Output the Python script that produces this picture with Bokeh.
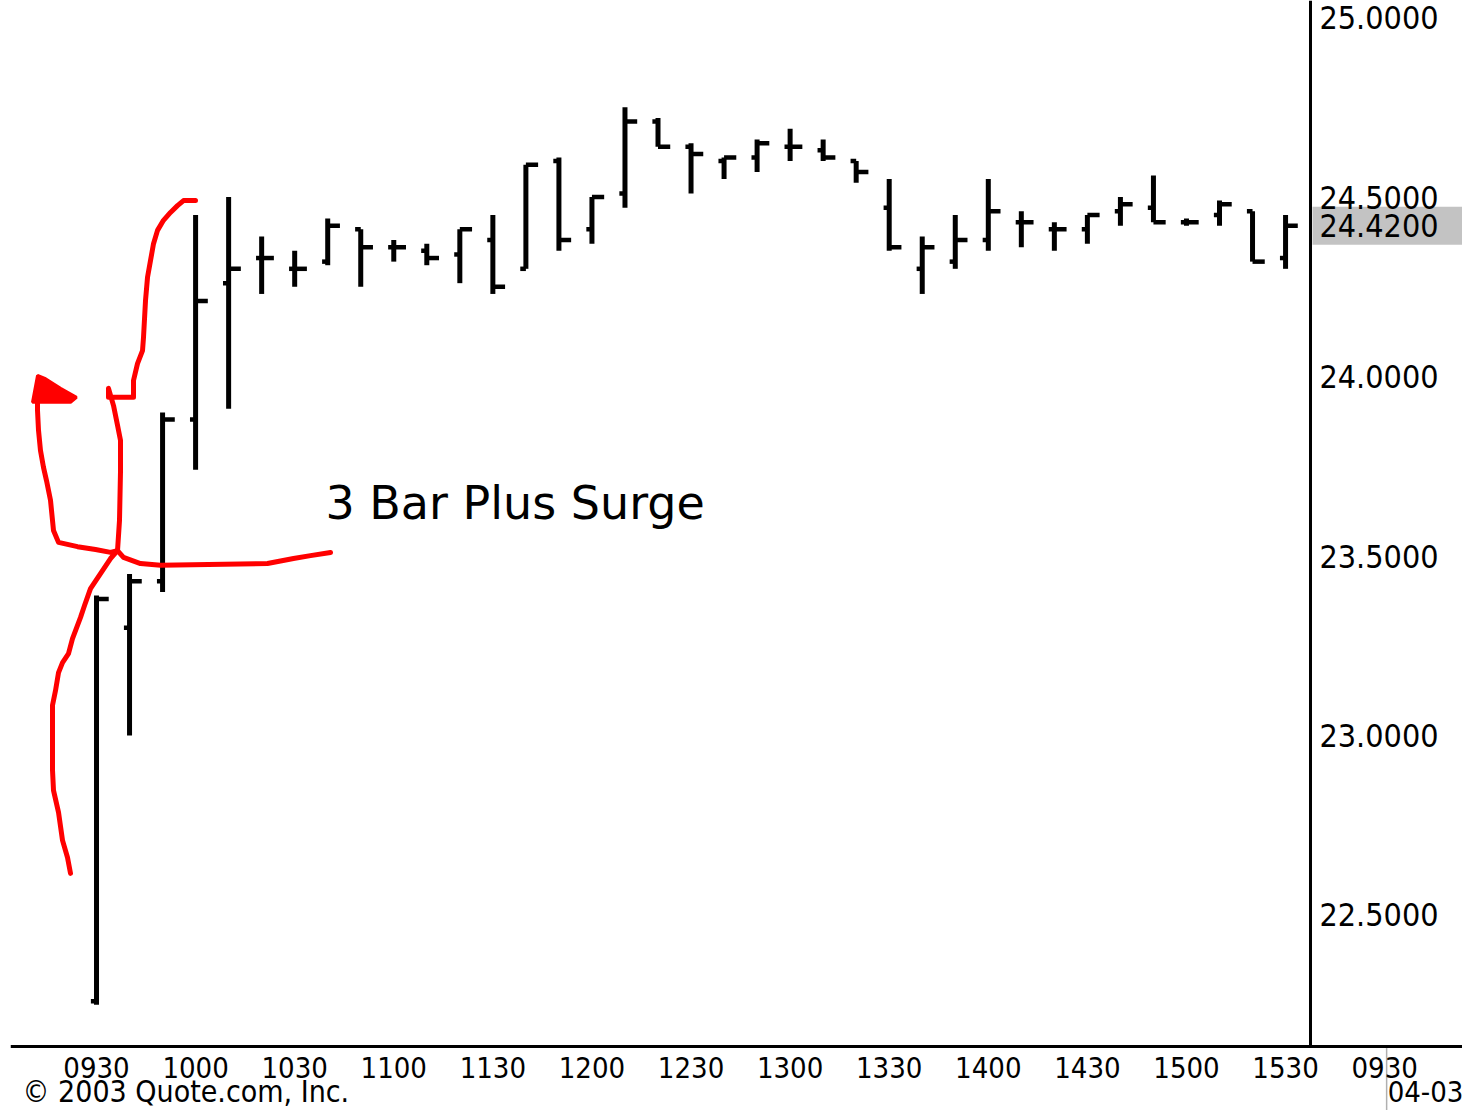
from bokeh.plotting import figure
from bokeh.models import (ColumnDataSource, LinearAxis, FixedTicker, NumeralTickFormatter,
                          Range1d, Label, AllLabels)
from bokeh.embed import file_html
from bokeh.resources import INLINE
from bokeh.core.properties import value

# ---------------- data (10-minute bars, 04-02 session) ----------------
bar_times = ["0930", "0940", "0950", "1000", "1010", "1020", "1030", "1040", "1050",
             "1100", "1110", "1120", "1130", "1140", "1150", "1200", "1210", "1220",
             "1230", "1240", "1250", "1300", "1310", "1320", "1330", "1340", "1350",
             "1400", "1410", "1420", "1430", "1440", "1450", "1500", "1510", "1520", "1530"]
opens = [22.26, 23.30, 23.43, 23.88, 24.26, 24.33, 24.30, 24.32, 24.41, 24.36, 24.35, 24.34, 24.38,
         24.30, 24.60, 24.41, 24.51, 24.71, 24.64, 24.60, 24.61, 24.64, 24.63, 24.60, 24.47, 24.30,
         24.32, 24.38, 24.43, 24.41, 24.41, 24.46, 24.47, 24.43, 24.45, 24.46, 24.33]
highs = [23.39, 23.45, 23.90, 24.45, 24.50, 24.39, 24.35, 24.44, 24.41, 24.38, 24.37, 24.41, 24.45,
         24.59, 24.61, 24.50, 24.75, 24.72, 24.65, 24.61, 24.66, 24.69, 24.66, 24.60, 24.55, 24.39,
         24.45, 24.55, 24.46, 24.43, 24.45, 24.50, 24.56, 24.44, 24.49, 24.46, 24.45]
lows = [22.25, 23.00, 23.40, 23.74, 23.91, 24.23, 24.25, 24.31, 24.25, 24.32, 24.31, 24.26, 24.23,
        24.30, 24.35, 24.37, 24.47, 24.64, 24.51, 24.55, 24.57, 24.60, 24.60, 24.54, 24.35, 24.23,
        24.30, 24.35, 24.36, 24.35, 24.37, 24.42, 24.43, 24.42, 24.42, 24.32, 24.30]
closes = [23.38, 23.43, 23.88, 24.21, 24.30, 24.33, 24.30, 24.42, 24.36, 24.36, 24.33, 24.41, 24.25,
          24.59, 24.38, 24.50, 24.71, 24.64, 24.62, 24.61, 24.65, 24.64, 24.61, 24.57, 24.36, 24.36,
          24.38, 24.46, 24.43, 24.41, 24.45, 24.48, 24.43, 24.43, 24.48, 24.32, 24.42]

x_tick_labels = ["0930", "1000", "1030", "1100", "1130", "1200", "1230", "1300",
                 "1330", "1400", "1430", "1500", "1530", "0930"]
bars_per_tick = 3  # 30 minutes of 10-minute bars
y_ticks = [22.5, 23.0, 23.5, 24.0, 24.5, 25.0]
last_price = closes[-1]
next_date = "04-03"
copyright_text = "\u00a9 2003 Quote.com, Inc."
note_text = "3 Bar Plus Surge"

# hand-drawn red annotation (bar index, price)
red_main_x = [-0.787, -0.878, -1.029, -1.150, -1.302, -1.332, -1.332, -1.241, -1.150, -1.029, -0.848,
              -0.727, -0.484, -0.363, -0.182, 0.121, 0.424, 0.636, 0.696, 0.727, 0.727, 0.636, 0.515,
              0.363, 0.363, 1.120, 1.120, 1.241, 1.393, 1.423, 1.484, 1.544, 1.635, 1.726, 1.847,
              2.028, 2.240, 2.452, 2.634, 2.997]
red_main_y = [22.616, 22.660, 22.708, 22.786, 22.847, 22.903, 23.084, 23.125, 23.175, 23.203, 23.228,
              23.270, 23.329, 23.362, 23.409, 23.451, 23.493, 23.515, 23.599, 23.738, 23.822, 23.864,
              23.919, 23.967, 23.942, 23.942, 23.989, 24.036, 24.072, 24.109, 24.212, 24.276, 24.323,
              24.370, 24.407, 24.435, 24.457, 24.476, 24.490, 24.490]
red_loop_x = [0.636, 0.424, -0.030, -0.575, -1.150, -1.302, -1.393, -1.514, -1.605, -1.696, -1.756,
              -1.786, -1.786]
red_loop_y = [23.515, 23.510, 23.518, 23.526, 23.538, 23.571, 23.655, 23.710, 23.747, 23.794, 23.850,
              23.905, 23.939]
red_arrow_x = [-1.938, -1.786, -1.544, -1.090, -0.606, -0.787]
red_arrow_y = [23.928, 24.003, 23.994, 23.967, 23.942, 23.928]
red_right_x = [0.636, 0.817, 1.332, 1.938, 5.177, 5.964, 6.479, 7.085]
red_right_y = [23.515, 23.496, 23.479, 23.474, 23.479, 23.493, 23.501, 23.510]

# ---------------- figure ----------------
FONT = "DejaVu Sans Condensed, DejaVu Sans, sans-serif"
Y_BOTTOM = 22.1337      # price level of the time axis line
X_AXIS_AT = 36.755      # bar position of the price axis line

p = figure(width=1462, height=1110, output_backend="svg", toolbar_location=None,
           x_range=Range1d(-2.604, 41.357), y_range=Range1d(21.9554, 25.0474),
           x_axis_location=None, y_axis_location=None, min_border=0,
           min_border_left=10, min_border_right=0, min_border_top=0, min_border_bottom=0)
p.outline_line_color = None
p.xgrid.visible = False
p.ygrid.visible = False
p.background_fill_color = "white"
p.border_fill_color = "white"

idx = list(range(len(bar_times)))
src = ColumnDataSource(dict(
    x=idx,
    xl=[i - 0.17 for i in idx],
    xr=[i + 0.37 for i in idx],
    o=opens, h=highs, l=lows, c=closes,
))

# last price box
p.quad(left=[X_AXIS_AT + 0.06], right=[p.x_range.end], bottom=[last_price - 0.053],
       top=[last_price + 0.053], fill_color="#c3c3c3", line_color=None)

# price axis, drawn inside the frame at a fixed bar position
yax = LinearAxis(fixed_location=X_AXIS_AT, bounds=(Y_BOTTOM, p.y_range.end),
                 ticker=FixedTicker(ticks=y_ticks + [last_price]),
                 formatter=NumeralTickFormatter(format="0.0000"),
                 major_label_policy=AllLabels())
yax.axis_line_width = 3
yax.axis_line_color = "black"
yax.major_tick_line_color = None
yax.minor_tick_line_color = None
yax.major_label_standoff = 3
yax.major_label_text_font = FONT
yax.major_label_text_font_size = "32px"
yax.major_label_text_color = "black"
p.add_layout(yax, "right")

# time axis, drawn inside the frame at a fixed price level
xt = [k * bars_per_tick for k in range(len(x_tick_labels))]
xax = LinearAxis(fixed_location=Y_BOTTOM, ticker=FixedTicker(ticks=xt),
                 major_label_policy=AllLabels())
xax.major_label_overrides = {t: lab for t, lab in zip(xt, x_tick_labels)}
xax.axis_line_width = 3
xax.axis_line_color = "black"
xax.major_tick_line_color = None
xax.minor_tick_line_color = None
xax.major_label_standoff = 5
xax.major_label_text_font = FONT
xax.major_label_text_font_size = "29px"
xax.major_label_text_color = "black"
p.add_layout(xax, "below")

# date separator below the axis
p.segment(x0=[xt[-1] + 0.06], x1=[xt[-1] + 0.06], y0=[Y_BOTTOM], y1=[p.y_range.start],
          line_color="#b0b0b0", line_width=1.5)

# bars
p.segment(x0="x", y0="l", x1="x", y1="h", source=src, line_color="black", line_width=5)
p.segment(x0="xl", y0="o", x1="x", y1="o", source=src, line_color="black", line_width=4.5)
p.segment(x0="x", y0="c", x1="xr", y1="c", source=src, line_color="black", line_width=4.5)

# red freehand annotation
for xs, ys in [(red_main_x, red_main_y), (red_loop_x, red_loop_y), (red_right_x, red_right_y)]:
    p.line(xs, ys, line_color="#ff0000", line_width=5, line_join="round", line_cap="round")
p.patch(red_arrow_x, red_arrow_y, fill_color="#ff0000", line_color="#ff0000", line_width=3)

p.text(x=[6.93], y=[23.648], text=[note_text], text_font=value("DejaVu Sans"),
       text_font_size="46px", text_baseline="middle", text_align="left", text_color="black")

p.add_layout(Label(x=12, y=19, x_units="screen", y_units="screen", text=copyright_text,
                   text_font=FONT, text_font_size="30px", text_baseline="middle",
                   text_color="black"))
p.add_layout(Label(x=xt[-1], y=19, x_units="data", y_units="screen", x_offset=3, text=next_date,
                   text_font=FONT, text_font_size="29px", text_baseline="middle",
                   text_color="black"))

open("out.html", "w").write(file_html(p, INLINE))
